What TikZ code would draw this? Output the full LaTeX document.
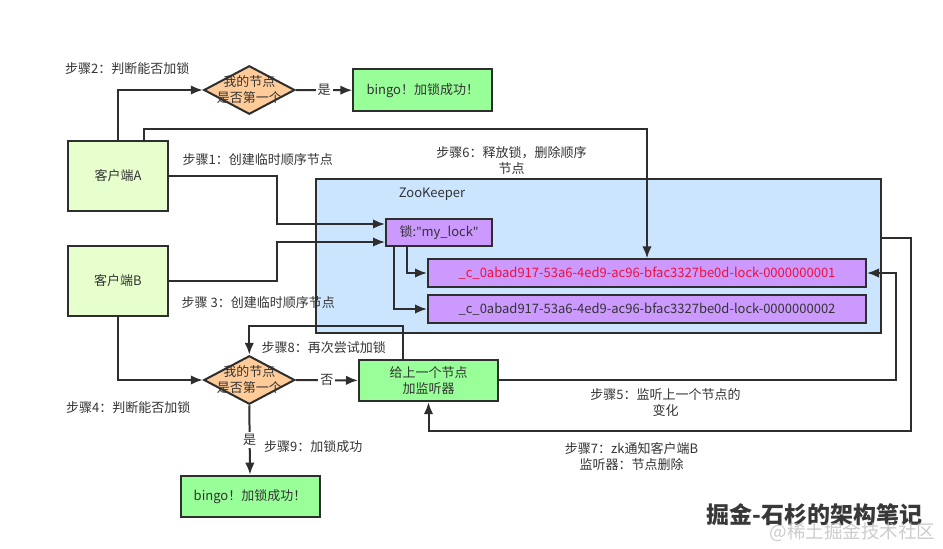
\documentclass[tikz,border=0pt]{standalone}
\usepackage{fontspec}
\setmainfont{Noto Sans CJK SC}
\newfontfamily\latinfont{Noto Sans}
\usetikzlibrary{shapes.geometric,arrows.meta,calc}
\definecolor{txt}{HTML}{333333}
\definecolor{lnc}{HTML}{2E2E2E}
\definecolor{clientfill}{HTML}{E6FFCC}
\definecolor{okfill}{HTML}{99FF99}
\definecolor{diafill}{HTML}{FFCC99}
\definecolor{zkfill}{HTML}{CCE5FF}
\definecolor{purp}{HTML}{CC99FF}
\definecolor{redtxt}{HTML}{F0103A}
\tikzset{
  base/.style={draw=lnc, line width=2pt, text=txt, font=\fontsize{13}{16}\selectfont, inner sep=0pt, align=center},
  client/.style={base, rectangle, fill=clientfill, minimum width=100pt, minimum height=70pt},
  okbox/.style={base, rectangle, fill=okfill, minimum width=139pt, minimum height=41.5pt},
  dia/.style={base, diamond, fill=diafill, minimum width=91pt, minimum height=48.5pt},
  zkbox/.style={base, rectangle, fill=zkfill, minimum width=565pt, minimum height=153.5pt},
  purpbox/.style={base, rectangle, fill=purp, minimum height=27.5pt},
  arr/.style={draw=lnc, line width=2pt, -{Latex[length=12pt,width=9.5pt]}},
  lbl/.style={text=txt, font=\fontsize{13}{16}\selectfont, inner sep=0pt, align=center},
  onl/.style={lbl, fill=white, inner sep=2pt},
}
\begin{document}
\begin{tikzpicture}[x=1pt,y=-1pt]
\useasboundingbox (0,0) rectangle (943,549);
% helper coordinates
\coordinate (y127) at (0,128.5);
\coordinate (c1) at (277,224);
\coordinate (c2) at (277,242);
\coordinate (c3x) at (896,0);
\coordinate (c4) at (910.7,238);
\coordinate (y430) at (0,430.5);
\coordinate (y326) at (0,326);
% nodes
\node[zkbox] (zk) at (598.2,255.9) {};
\node[lbl, anchor=center] (zklbl) at (432,194) {ZooKeeper};
\node[client] (cA) at (118,175.7) {客户端A};
\node[client] (cB) at (118,281) {客户端B};
\node[dia] (d1) at (249.3,90) {};
\node[lbl] (d1t) at (249.3,90) {我的节点\\是否第一个};
\node[okbox] (b1) at (422.8,90.2) {bingo！加锁成功！};
\node[purpbox, minimum width=106pt] (lk) at (439,232.5) {锁:{\latinfont\symbol{"22}}my\_lock{\latinfont\symbol{"22}}};
\node[purpbox, minimum width=438pt, text=redtxt] (n1) at (647,273) {\_c\_0abad917-53a6-4ed9-ac96-bfac3327be0d-lock-0000000001};
\node[purpbox, minimum width=438pt] (n2) at (647,309) {\_c\_0abad917-53a6-4ed9-ac96-bfac3327be0d-lock-0000000002};
\node[dia] (d2) at (249.3,380) {};
\node[lbl] (d2t) at (249.3,380) {我的节点\\是否第一个};
\node[okbox] (ls) at (428.5,380.4) {给上一个节点\\加监听器};
\node[okbox] (b2) at (250,496.4) {bingo！加锁成功！};
% step labels
\node[lbl, anchor=west] (s2) at (65,69) {步骤2：判断能否加锁};
\node[lbl, anchor=west] (s1) at (182.5,160) {步骤1：创建临时顺序节点};
\node[lbl] (s6) at (511.5,160.5) {步骤6：释放锁，删除顺序\\节点};
\node[lbl, anchor=west] (s3) at (181.5,303) {步骤 3：创建临时顺序节点};
\node[lbl, anchor=west] (s8) at (261.5,347.5) {步骤8：再次尝试加锁};
\node[lbl, anchor=west] (s4) at (66,408) {步骤4：判断能否加锁};
\node[lbl, anchor=west] (s9) at (264,447) {步骤9：加锁成功};
\node[lbl] (s5) at (665.5,402.5) {步骤5：监听上一个节点的\\变化};
\node[lbl] (s7) at (631.5,457) {步骤7：zk通知客户端B\\监听器：节点删除};
% connectors
\draw[arr] (cA.north) |- (d1.west);
\draw[arr] (d1.east) -- node[onl] {是} (b1.west);
\draw[arr] ([xshift=26pt]cA.north) |- (n1.north |- y127) -- (n1.north);
\draw[arr] (cA.east) -| (c1) -- (lk.west |- c1);
\draw[arr] (cB.east) -| (c2) -- (lk.west |- c2);
\draw[arr] ([xshift=-32pt]lk.south) |- (n1.west);
\draw[arr] ([xshift=-45pt]lk.south) |- (n2.west);
\draw[arr] (cB.south) |- (d2.west);
\draw[arr] (d2.east) -- node[onl] {否} (ls.west);
\draw[arr] (d2.south) -- node[onl] {是} (b2.north);
\draw[arr] (ls.east) -| (n1.east -| c3x) -- (n1.east);
\draw[arr] (zk.east |- c4) -- (c4) |- (ls.south |- y430) -- (ls.south);
\draw[arr] ([xshift=-26pt]ls.north) |- (d2.north |- y326) -- (d2.north);
% watermark
\node[inner sep=0pt, text=black!78, font=\fontsize{23}{25}\bfseries\selectfont] (wm1) at (814.5,515) {掘金-石杉的架构笔记};
\node[inner sep=0pt, text=black!25, opacity=0.8, font=\fontsize{18.5}{20}\selectfont] (wm2) at (852.5,532) {@稀土掘金技术社区};
\end{tikzpicture}
\end{document}
